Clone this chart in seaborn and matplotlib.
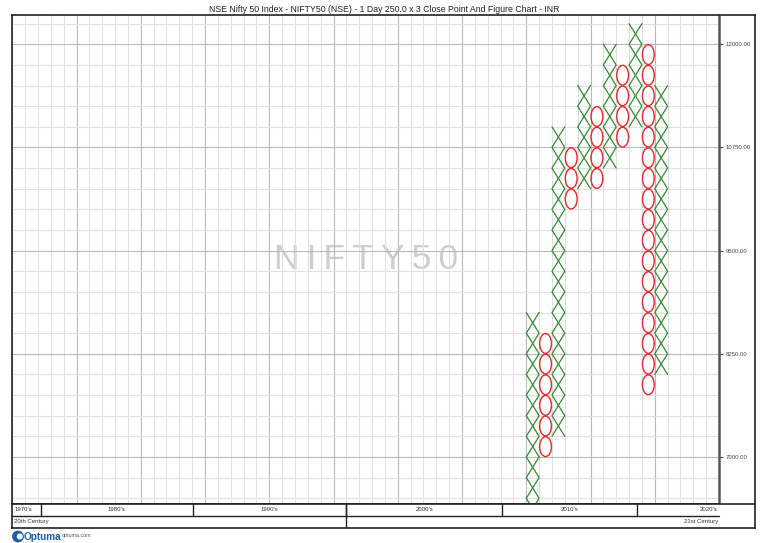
import numpy as np
import pandas as pd
import matplotlib.pyplot as plt
import seaborn as sns
from matplotlib.patches import Ellipse, Circle
from matplotlib.ticker import FormatStrFormatter, MultipleLocator

# point & figure columns (box bottom of lowest box, box top of highest box)
col_type = ['X', 'O', 'X', 'O', 'X', 'O', 'X', 'O', 'X', 'O', 'X']
col_low = [6250, 7000, 7250, 10000, 10250, 10250, 10500, 10750, 11000, 7750, 8000]
col_high = [8750, 8500, 11000, 10750, 11500, 11250, 12000, 11750, 12250, 12000, 11500]
first_col = 40
n_cols = 55
box = 250

price_labels = [7000, 8250, 9500, 10750, 12000]

decade_labels = ["1970's", "1980's", "1990's", "2000's", "2010's", "2020's"]
decade_edges = [0, 2.2, 14.05, 26.0, 38.1, 48.6, 55]
century_labels = ["20th Century", "21st Century"]
century_edge = 26.0

green = '#318a31'
red = '#e5262b'

sns.set_style('white')
plt.rcParams['font.family'] = ['Liberation Sans', 'DejaVu Sans']

W, H = 768, 543
fig = plt.figure(figsize=(W / 100, H / 100), dpi=100)

# right price panel (behind main axes so labels stay visible)
rp = fig.add_axes([719 / W, 1 - 504 / H, 36 / W, 489 / H])
rp.patch.set_visible(False)
rp.set_xticks([])
rp.set_yticks([])
for s in ['left', 'bottom']:
    rp.spines[s].set_visible(False)
for s in ['top', 'right']:
    rp.spines[s].set_color('#222222')
    rp.spines[s].set_linewidth(1.2)

ax = fig.add_axes([12.3 / W, 1 - 504 / H, 706.7 / W, 489 / H])
ax.set_xlim(0, n_cols)
ax.set_ylim(6430, 12355)

# grid
ax.xaxis.set_major_locator(MultipleLocator(5))
ax.xaxis.set_minor_locator(MultipleLocator(1))
ax.set_yticks(price_labels)
ax.yaxis.set_minor_locator(MultipleLocator(box))
ax.grid(which='minor', color='#e0e0e0', lw=0.8)
ax.grid(which='major', color='#b8b8b8', lw=0.8)
ax.set_axisbelow(True)
ax.tick_params(axis='x', which='both', length=0, labelbottom=False)
ax.yaxis.tick_right()
ax.yaxis.set_major_formatter(FormatStrFormatter('%.2f'))
ax.tick_params(axis='y', which='major', length=3, width=0.8, labelsize=4.3,
               pad=1.5, colors='#444444')
ax.tick_params(axis='y', which='minor', length=0)

for s in ['left', 'top', 'bottom']:
    ax.spines[s].set_color('#222222')
    ax.spines[s].set_linewidth(1.2)
ax.spines['right'].set_color('#555555')
ax.spines['right'].set_linewidth(1.8)

# watermark
ax.text(0.5, 0.5, '\u2009'.join('NIFTY50'), transform=ax.transAxes, ha='center',
        va='center', fontsize=25.5, color='#cdcdcd', zorder=0)

# build X zigzags and O ellipses
parts = []
for i, (t, lo, hi) in enumerate(zip(col_type, col_low, col_high)):
    c = first_col + i
    if t == 'X':
        n = int((hi - lo) / box)
        ys = lo + box * np.arange(n + 1)
        for k in (0, 1):
            xs = c + ((np.arange(n + 1) + k) % 2)
            parts.append(pd.DataFrame({'x': xs, 'y': ys, 'unit': f'{i}-{k}'}))
    else:
        for b in np.arange(lo, hi, box):
            ax.add_patch(Ellipse((c + 0.5, b + box / 2), 0.92, box * 0.96,
                                 fill=False, ec=red, lw=1.0, zorder=3))
xdf = pd.concat(parts, ignore_index=True)
sns.lineplot(data=xdf, x='x', y='y', units='unit', estimator=None, sort=False,
             color=green, lw=0.9, ax=ax, legend=False, zorder=3)
ax.set_xlabel('')
ax.set_ylabel('')

# date bar
bar_right = n_cols * 742.7 / 706.7
ba = fig.add_axes([12.3 / W, 1 - 527.5 / H, 742.7 / W, 23.5 / H])
ba.set_xlim(0, bar_right)
ba.set_ylim(2, 0)
ba.set_xticks([])
ba.set_yticks([])
for s in ba.spines.values():
    s.set_color('#222222')
    s.set_linewidth(1.2)
ba.plot([0, n_cols], [1, 1], color='#222222', lw=1.0)
for e in decade_edges[1:-1]:
    ba.plot([e, e], [0, 1], color='#222222', lw=1.0)
ba.plot([century_edge, century_edge], [0, 2], color='#222222', lw=1.0)
for j, lab in enumerate(decade_labels):
    a, b = decade_edges[j], decade_edges[j + 1]
    if j == 0:
        ba.text(a + 0.15, 0.5, lab, ha='left', va='center', fontsize=4.3, color='#333333')
    elif j == len(decade_labels) - 1:
        ba.text(b - 0.1, 0.5, lab, ha='right', va='center', fontsize=4.3, color='#333333')
    else:
        ba.text((a + b) / 2, 0.5, lab, ha='center', va='center', fontsize=4.3, color='#333333')
ba.text(0.15, 1.5, century_labels[0], ha='left', va='center', fontsize=4.3, color='#333333')
ba.text(n_cols - 0.05, 1.5, century_labels[1], ha='right', va='center', fontsize=4.3,
        color='#333333')

# title
fig.text(0.5, 1 - 10 / H, 'NSE Nifty 50 Index - NIFTY50 (NSE) - 1 Day 250.0 x 3 Close '
         'Point And Figure Chart - INR', ha='center', va='center', fontsize=6.3,
         color='#222222')

# logo
fig.add_artist(Circle((18, H - 536.5), 5.2, transform=None, color='#1f5ea8'))
fig.add_artist(Circle((19.8, H - 536.5), 2.3, transform=None, color='white'))
fig.text(24 / W, 1 - 536.5 / H, 'Optuma', ha='left', va='center', fontsize=7.2,
         fontweight='bold', color='#1f5ea8')
fig.text(62 / W, 1 - 536 / H, 'optuma.com', ha='left', va='center', fontsize=3.8,
         color='#555555')

fig.savefig('out.png', dpi=100)
